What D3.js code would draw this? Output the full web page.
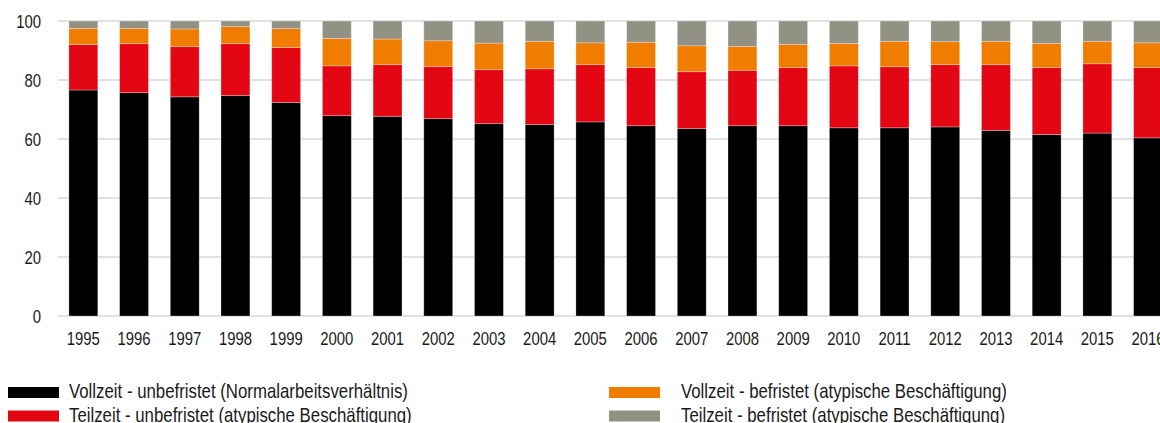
<!DOCTYPE html>
<html>
<head>
<meta charset="utf-8">
<script src="https://cdn.jsdelivr.net/npm/d3@7"></script>
<style>
  body { margin: 0; background: #fff; }
  svg text { font-family: "Liberation Sans", Arial, sans-serif; fill: #1a1a1a; }
</style>
</head>
<body>
<svg id="chart"></svg>
<script>
let years = ["1995", "1996", "1997", "1998", "1999", "2000", "2001", "2002", "2003", "2004", "2005",
    "2006", "2007", "2008", "2009", "2010", "2011", "2012", "2013", "2014", "2015", "2016"]

// shares in percent, stacked bottom to top
let vollUnbefristet = [76.6, 75.7, 74.3, 74.7, 72.4, 67.9, 67.7, 66.9, 65.2, 64.9, 65.8,
    64.5, 63.6, 64.5, 64.5, 63.8, 63.8, 64.1, 62.9, 61.5, 62.0, 60.4]
let teilUnbefristet = [15.4, 16.6, 17.0, 17.6, 18.6, 16.9, 17.5, 17.7, 18.3, 18.9, 19.4,
    19.7, 19.2, 18.8, 19.7, 21.0, 20.7, 21.1, 22.3, 22.7, 23.5, 23.8]
let vollBefristet = [5.5, 5.2, 6.0, 5.8, 6.4, 9.3, 8.7, 8.7, 9.0, 9.3, 7.4,
    8.6, 8.8, 8.1, 7.9, 7.6, 8.6, 7.8, 7.9, 8.2, 7.6, 8.4]
let teilBefristet = [2.5, 2.5, 2.7, 1.9, 2.6, 5.9, 6.1, 6.7, 7.5, 6.9, 7.4,
    7.2, 8.4, 8.6, 7.9, 7.6, 6.9, 7.0, 6.9, 7.6, 6.9, 7.4]

let seriesNames = ["Vollzeit - unbefristet (Normalarbeitsverhältnis)",
    "Teilzeit - unbefristet (atypische Beschäftigung)",
    "Vollzeit - befristet (atypische Beschäftigung)",
    "Teilzeit - befristet (atypische Beschäftigung)"]
let yTicks = [0, 20, 40, 60, 80, 100]

const colors = ["#000000", "#e30613", "#f07d00", "#929284"]
const keys = ["vu", "tu", "vb", "tb"]

let w = 1160,
    h = 423,
    left = 58

let svg = d3.select("#chart")
    .attr("width", w)
    .attr("height", h)

let rows = years.map((y, i) => ({
    year: y,
    vu: vollUnbefristet[i],
    tu: teilUnbefristet[i],
    vb: vollBefristet[i],
    tb: teilBefristet[i]
}))

let x = d3.scaleBand()
    .domain(years)
    .range([left, left + years.length * 50.7])
    .paddingInner(0.43)
    .paddingOuter(0.215)

let y = d3.scaleLinear()
    .domain([0, 100])
    .range([316, 21])

// grid
svg.append("g")
    .selectAll("line")
    .data(yTicks)
    .enter().append("line")
    .attr("x1", left)
    .attr("x2", w)
    .attr("y1", d => y(d))
    .attr("y2", d => y(d))
    .attr("stroke", "#c4c4c4")
    .attr("stroke-width", 1.2)

// condensed look: squeeze the text horizontally
const squeeze = "scale(0.85,1)"

let yAxis = svg.append("g")
    .attr("transform", "translate(" + (left - 17) + ",0)")
    .call(d3.axisLeft(y).tickValues(yTicks).tickSize(0).tickPadding(0))
yAxis.select(".domain").remove()
yAxis.selectAll("text")
    .attr("font-size", 17.5)
    .attr("dy", "0.36em")
    .attr("transform", squeeze)

let stack = d3.stack().keys(keys)(rows)

svg.append("g")
    .selectAll("g")
    .data(stack)
    .enter().append("g")
    .attr("fill", (d, i) => colors[i])
    .selectAll("rect")
    .data(d => d)
    .enter().append("rect")
    .attr("x", d => x(d.data.year))
    .attr("width", x.bandwidth())
    .attr("y", d => y(d[1]))
    .attr("height", d => y(d[0]) - y(d[1]))
    .attr("stroke", "#ffffff")
    .attr("stroke-opacity", 0.35)
    .attr("stroke-width", 0.8)

let xAxis = svg.append("g")
    .attr("transform", "translate(0,316)")
    .call(d3.axisBottom(x).tickSize(0).tickPadding(0))
xAxis.select(".domain").remove()
xAxis.selectAll("text")
    .attr("font-size", 17.5)
    .attr("dy", 0)
    .attr("y", 29.5)
    .attr("transform", squeeze)

// legend
let legendPos = [[8, 398, 61], [8, 421.5, 61], [609, 398, 72], [609, 421.5, 72]]
let legend = svg.append("g")
    .selectAll("g")
    .data(seriesNames)
    .enter().append("g")
    .attr("transform", (d, i) => "translate(" + legendPos[i][0] + "," + legendPos[i][1] + ")")

legend.append("rect")
    .attr("x", 0)
    .attr("y", -11)
    .attr("width", 51)
    .attr("height", 11)
    .attr("fill", (d, i) => colors[i])

legend.append("text")
    .attr("transform", (d, i) => "translate(" + legendPos[i][2] + ",0) scale(0.82,1)")
    .attr("font-size", 20.5)
    .text(d => d)
</script>
</body>
</html>
